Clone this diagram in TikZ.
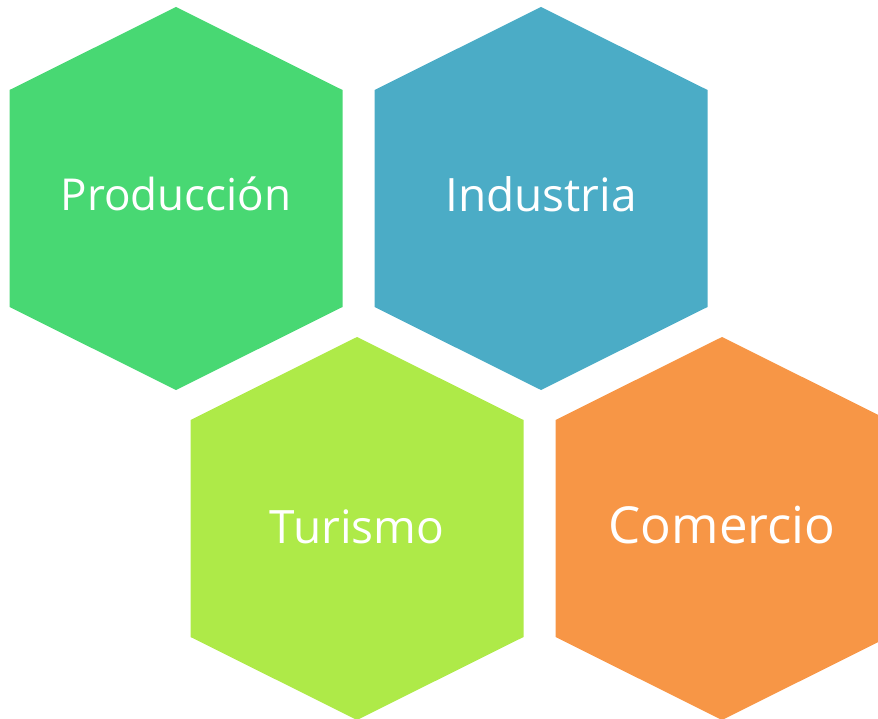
\documentclass[tikz,border=0pt]{standalone}
\usepackage{fontspec}
\setmainfont{Open Sans}
\definecolor{verde}{RGB}{72,216,115}
\definecolor{azul}{RGB}{75,172,198}
\definecolor{lima}{RGB}{174,234,72}
\definecolor{naranja}{RGB}{247,150,70}
\begin{document}
\begin{tikzpicture}[x=1pt, y=-1pt, every node/.style={text=white, anchor=base, inner sep=0pt}]
        \useasboundingbox (0,0) rectangle (878,719);
        % Hexágonos
        \foreach \cx/\cy/\col in {176/197.5/verde, 541/197.5/azul, 357/527.5/lima, 722/527.5/naranja} {
            \fill[\col] (\cx,\cy) ++(0,-190.5) -- ++(166.5,83) -- ++(0,217) -- ++(-166.5,83)
                -- ++(-166.5,-83) -- ++(0,-217) -- cycle;
        }
        % Rótulos
        \node[font=\fontsize{44}{52}\selectfont] (produccion) at (176,211) {Producción};
        \node[font=\fontsize{46}{55}\selectfont] (industria)  at (541,211.5) {Industria};
        \node[font=\fontsize{46}{55}\selectfont] (turismo)    at (357,543) {Turismo};
        \node[font=\fontsize{51}{60}\selectfont] (comercio)   at (722,543) {Comercio};
    \end{tikzpicture}
\end{document}
